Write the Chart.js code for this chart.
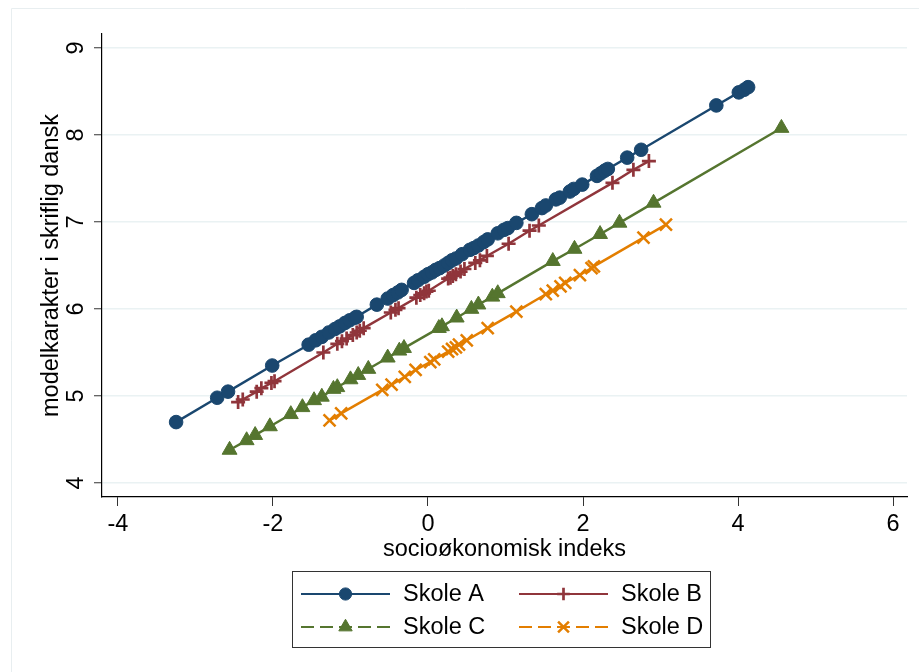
<!DOCTYPE html>
<html>
<head>
<meta charset="utf-8">
<script src="https://cdn.jsdelivr.net/npm/chart.js@4/dist/chart.umd.min.js"></script>
<style>
html,body{margin:0;padding:0;background:#fff;}
canvas{display:block;}
</style>
</head>
<body>
<canvas id="c" width="919" height="672"></canvas>
<script>
// ---- data ----
const seriesNames = ['Skole A', 'Skole B', 'Skole C', 'Skole D'];

const skoleA_x = [-3.25,-2.72,-2.58,-2.01,-1.54,-1.45,-1.37,-1.28,-1.20,-1.14,-1.07,-1.01,-0.94,-0.92,-0.66,-0.52,-0.45,-0.39,-0.34,-0.18,-0.13,-0.05,0.00,0.05,0.10,0.15,0.21,0.26,0.31,0.36,0.44,0.54,0.59,0.65,0.72,0.77,0.90,0.98,1.03,1.14,1.34,1.47,1.52,1.65,1.70,1.83,1.88,1.99,2.18,2.23,2.28,2.32,2.57,2.75,3.72,4.01,4.08,4.13];
const skoleA_y = [4.70,4.98,5.05,5.35,5.59,5.64,5.68,5.73,5.77,5.80,5.84,5.87,5.90,5.91,6.05,6.12,6.16,6.19,6.22,6.30,6.33,6.37,6.40,6.42,6.45,6.47,6.50,6.53,6.56,6.58,6.63,6.68,6.70,6.73,6.77,6.80,6.87,6.91,6.93,6.99,7.09,7.16,7.19,7.26,7.28,7.35,7.38,7.43,7.53,7.56,7.59,7.61,7.74,7.83,8.34,8.49,8.52,8.55];

const skoleB_x = [-2.45,-2.39,-2.21,-2.15,-2.02,-1.98,-1.35,-1.17,-1.11,-1.05,-0.97,-0.92,-0.88,-0.83,-0.48,-0.42,-0.38,-0.15,-0.10,-0.05,-0.02,0.01,0.26,0.29,0.32,0.36,0.42,0.47,0.61,0.67,0.76,1.04,1.31,1.43,2.38,2.65,2.85];
const skoleB_y = [4.93,4.96,5.05,5.09,5.15,5.17,5.50,5.60,5.63,5.66,5.70,5.73,5.75,5.78,5.96,5.99,6.01,6.13,6.16,6.18,6.20,6.21,6.35,6.36,6.38,6.40,6.43,6.46,6.53,6.56,6.61,6.75,6.90,6.96,7.45,7.60,7.70];

const skoleC_x = [-2.56,-2.34,-2.23,-2.04,-1.77,-1.62,-1.47,-1.37,-1.22,-1.17,-1.00,-0.90,-0.77,-0.52,-0.37,-0.31,0.14,0.18,0.37,0.56,0.65,0.83,0.90,1.61,1.89,2.22,2.47,2.91,4.56];
const skoleC_y = [4.38,4.49,4.55,4.65,4.79,4.87,4.95,4.99,5.08,5.10,5.19,5.24,5.31,5.44,5.52,5.55,5.78,5.80,5.90,6.00,6.05,6.14,6.18,6.55,6.69,6.86,6.99,7.22,8.08];

const skoleD_x = [-1.27,-1.12,-0.59,-0.47,-0.30,-0.16,0.03,0.08,0.26,0.31,0.36,0.40,0.50,0.77,1.14,1.52,1.61,1.71,1.77,1.96,2.11,2.14,2.78,3.07];
const skoleD_y = [4.72,4.80,5.07,5.13,5.22,5.30,5.39,5.42,5.51,5.54,5.56,5.59,5.64,5.78,5.97,6.17,6.21,6.26,6.30,6.39,6.47,6.49,6.82,6.97];

const xTicks = [-4,-2,0,2,4,6];
const xTickLabels = ['-4','-2','0','2','4','6'];
const yTicks = [4,5,6,7,8,9];
const yTickLabels = ['4','5','6','7','8','9'];

const xTitle = 'socioøkonomisk indeks';
const yTitle = 'modelkarakter i skriflig dansk';

// ---- build ----
const FONT = "'Liberation Sans', Arial, Helvetica, sans-serif";
const FSIZE = 23.5;
function pts(xs, ys){ return xs.map((x,i)=>({x:x, y:ys[i]})); }

const styles = [
  {color:'#1a476f', pointStyle:'circle',   radius:6.8, bw:1,   dash:[]},
  {color:'#90353b', pointStyle:'cross',    radius:7,   bw:2.7, dash:[]},
  {color:'#55752f', pointStyle:'triangle', radius:8.6, bw:1,   dash:[13,6]},
  {color:'#e37e00', pointStyle:'crossRot', radius:8.5, bw:2.5, dash:[13,6]}
];
const allData = [pts(skoleA_x,skoleA_y), pts(skoleB_x,skoleB_y), pts(skoleC_x,skoleC_y), pts(skoleD_x,skoleD_y)];

const datasets = seriesNames.map((name,i)=>({
  label: name,
  data: allData[i],
  borderColor: styles[i].color,
  backgroundColor: styles[i].color,
  borderWidth: 2.4,
  showLine: true,
  pointStyle: styles[i].pointStyle,
  pointRadius: styles[i].radius,
  pointHoverRadius: styles[i].radius,
  pointBorderWidth: styles[i].bw,
  pointBackgroundColor: styles[i].color,
  pointBorderColor: styles[i].color,
  tension: 0,
  order: 4 - i,
  legendDash: styles[i].dash
}));

const framePlugin = {
  id: 'frame',
  beforeDraw(chart){
    const ctx = chart.ctx;
    ctx.save();
    ctx.fillStyle = '#ffffff';
    ctx.fillRect(0,0,chart.width,chart.height);
    ctx.strokeStyle = '#e8eef0';
    ctx.lineWidth = 1;
    ctx.beginPath();
    ctx.moveTo(11.5, chart.height);
    ctx.lineTo(11.5, 8.5);
    ctx.lineTo(chart.width, 8.5);
    ctx.stroke();
    ctx.restore();
  }
};

const legendPlugin = {
  id: 'boxLegend',
  afterDraw(chart){
    const ctx = chart.ctx;
    const box = {x: 292.5, y: 571.5, w: 418, h: 76};
    ctx.save();
    ctx.strokeStyle = '#333';
    ctx.lineWidth = 1;
    ctx.strokeRect(box.x, box.y, box.w, box.h);
    const cols = [301, 519];
    const rows = [594, 627];
    chart.data.datasets.forEach((ds,i)=>{
      const cx = cols[i%2], cy = rows[Math.floor(i/2)];
      ctx.strokeStyle = ds.borderColor;
      ctx.lineWidth = 2.2;
      ctx.setLineDash(ds.legendDash);
      ctx.beginPath();
      ctx.moveTo(cx, cy);
      ctx.lineTo(cx+89, cy);
      ctx.stroke();
      ctx.setLineDash([]);
      ctx.fillStyle = ds.borderColor;
      ctx.strokeStyle = ds.borderColor;
      ctx.lineWidth = ds.pointBorderWidth;
      Chart.helpers.drawPoint(ctx, {
        pointStyle: ds.pointStyle,
        radius: ds.pointRadius * 0.9,
        rotation: 0,
        borderWidth: ds.pointBorderWidth
      }, cx+44.5, cy);
      ctx.fillStyle = '#000';
      ctx.font = FSIZE + 'px ' + FONT;
      ctx.textBaseline = 'middle';
      ctx.textAlign = 'left';
      ctx.fillText(ds.label, cx+102, cy+1);
    });
    ctx.restore();
  }
};

new Chart(document.getElementById('c'), {
  type: 'line',
  data: { datasets: datasets },
  plugins: [framePlugin, legendPlugin],
  options: {
    responsive: false,
    animation: false,
    devicePixelRatio: 1,
    layout: { padding: { left: 37, right: 12, top: 34, bottom: 108 } },
    plugins: { legend: { display: false }, tooltip: { enabled: false } },
    scales: {
      x: {
        type: 'linear',
        min: -4.206, max: 6.18,
        afterBuildTicks(s){ s.ticks = xTicks.map(v=>({value:v})); },
        afterFit(s){ s.height = 67; },
        grid: { display: true, drawOnChartArea: false, drawTicks: true, tickLength: 9, tickColor: '#333', tickWidth: 1 },
        border: { display: true, color: '#000', width: 1.2 },
        ticks: { color: '#000', padding: 4, maxRotation: 0, autoSkip: false,
                 font: { family: FONT, size: FSIZE },
                 callback(v, i){ return xTickLabels[i]; } },
        title: { display: true, text: xTitle, color: '#000', padding: 0,
                 font: { family: FONT, size: FSIZE } }
      },
      y: {
        type: 'linear',
        min: 3.839, max: 9.161,
        afterBuildTicks(s){ s.ticks = yTicks.map(v=>({value:v})); },
        afterFit(s){ s.width = 102 - 37; },
        grid: { display: true, drawOnChartArea: true, color: '#eaf2f3', lineWidth: 1.5, tickLength: 8, tickColor: '#333', tickWidth: 1 },
        border: { display: true, color: '#000', width: 1.2 },
        ticks: { color: '#000', padding: 11, minRotation: 90, maxRotation: 90, crossAlign: 'center', autoSkip: false,
                 font: { family: FONT, size: FSIZE },
                 callback(v, i){ return yTickLabels[i]; } },
        title: { display: true, text: yTitle, color: '#000', padding: 0,
                 font: { family: FONT, size: FSIZE } }
      }
    }
  }
});
</script>
</body>
</html>
